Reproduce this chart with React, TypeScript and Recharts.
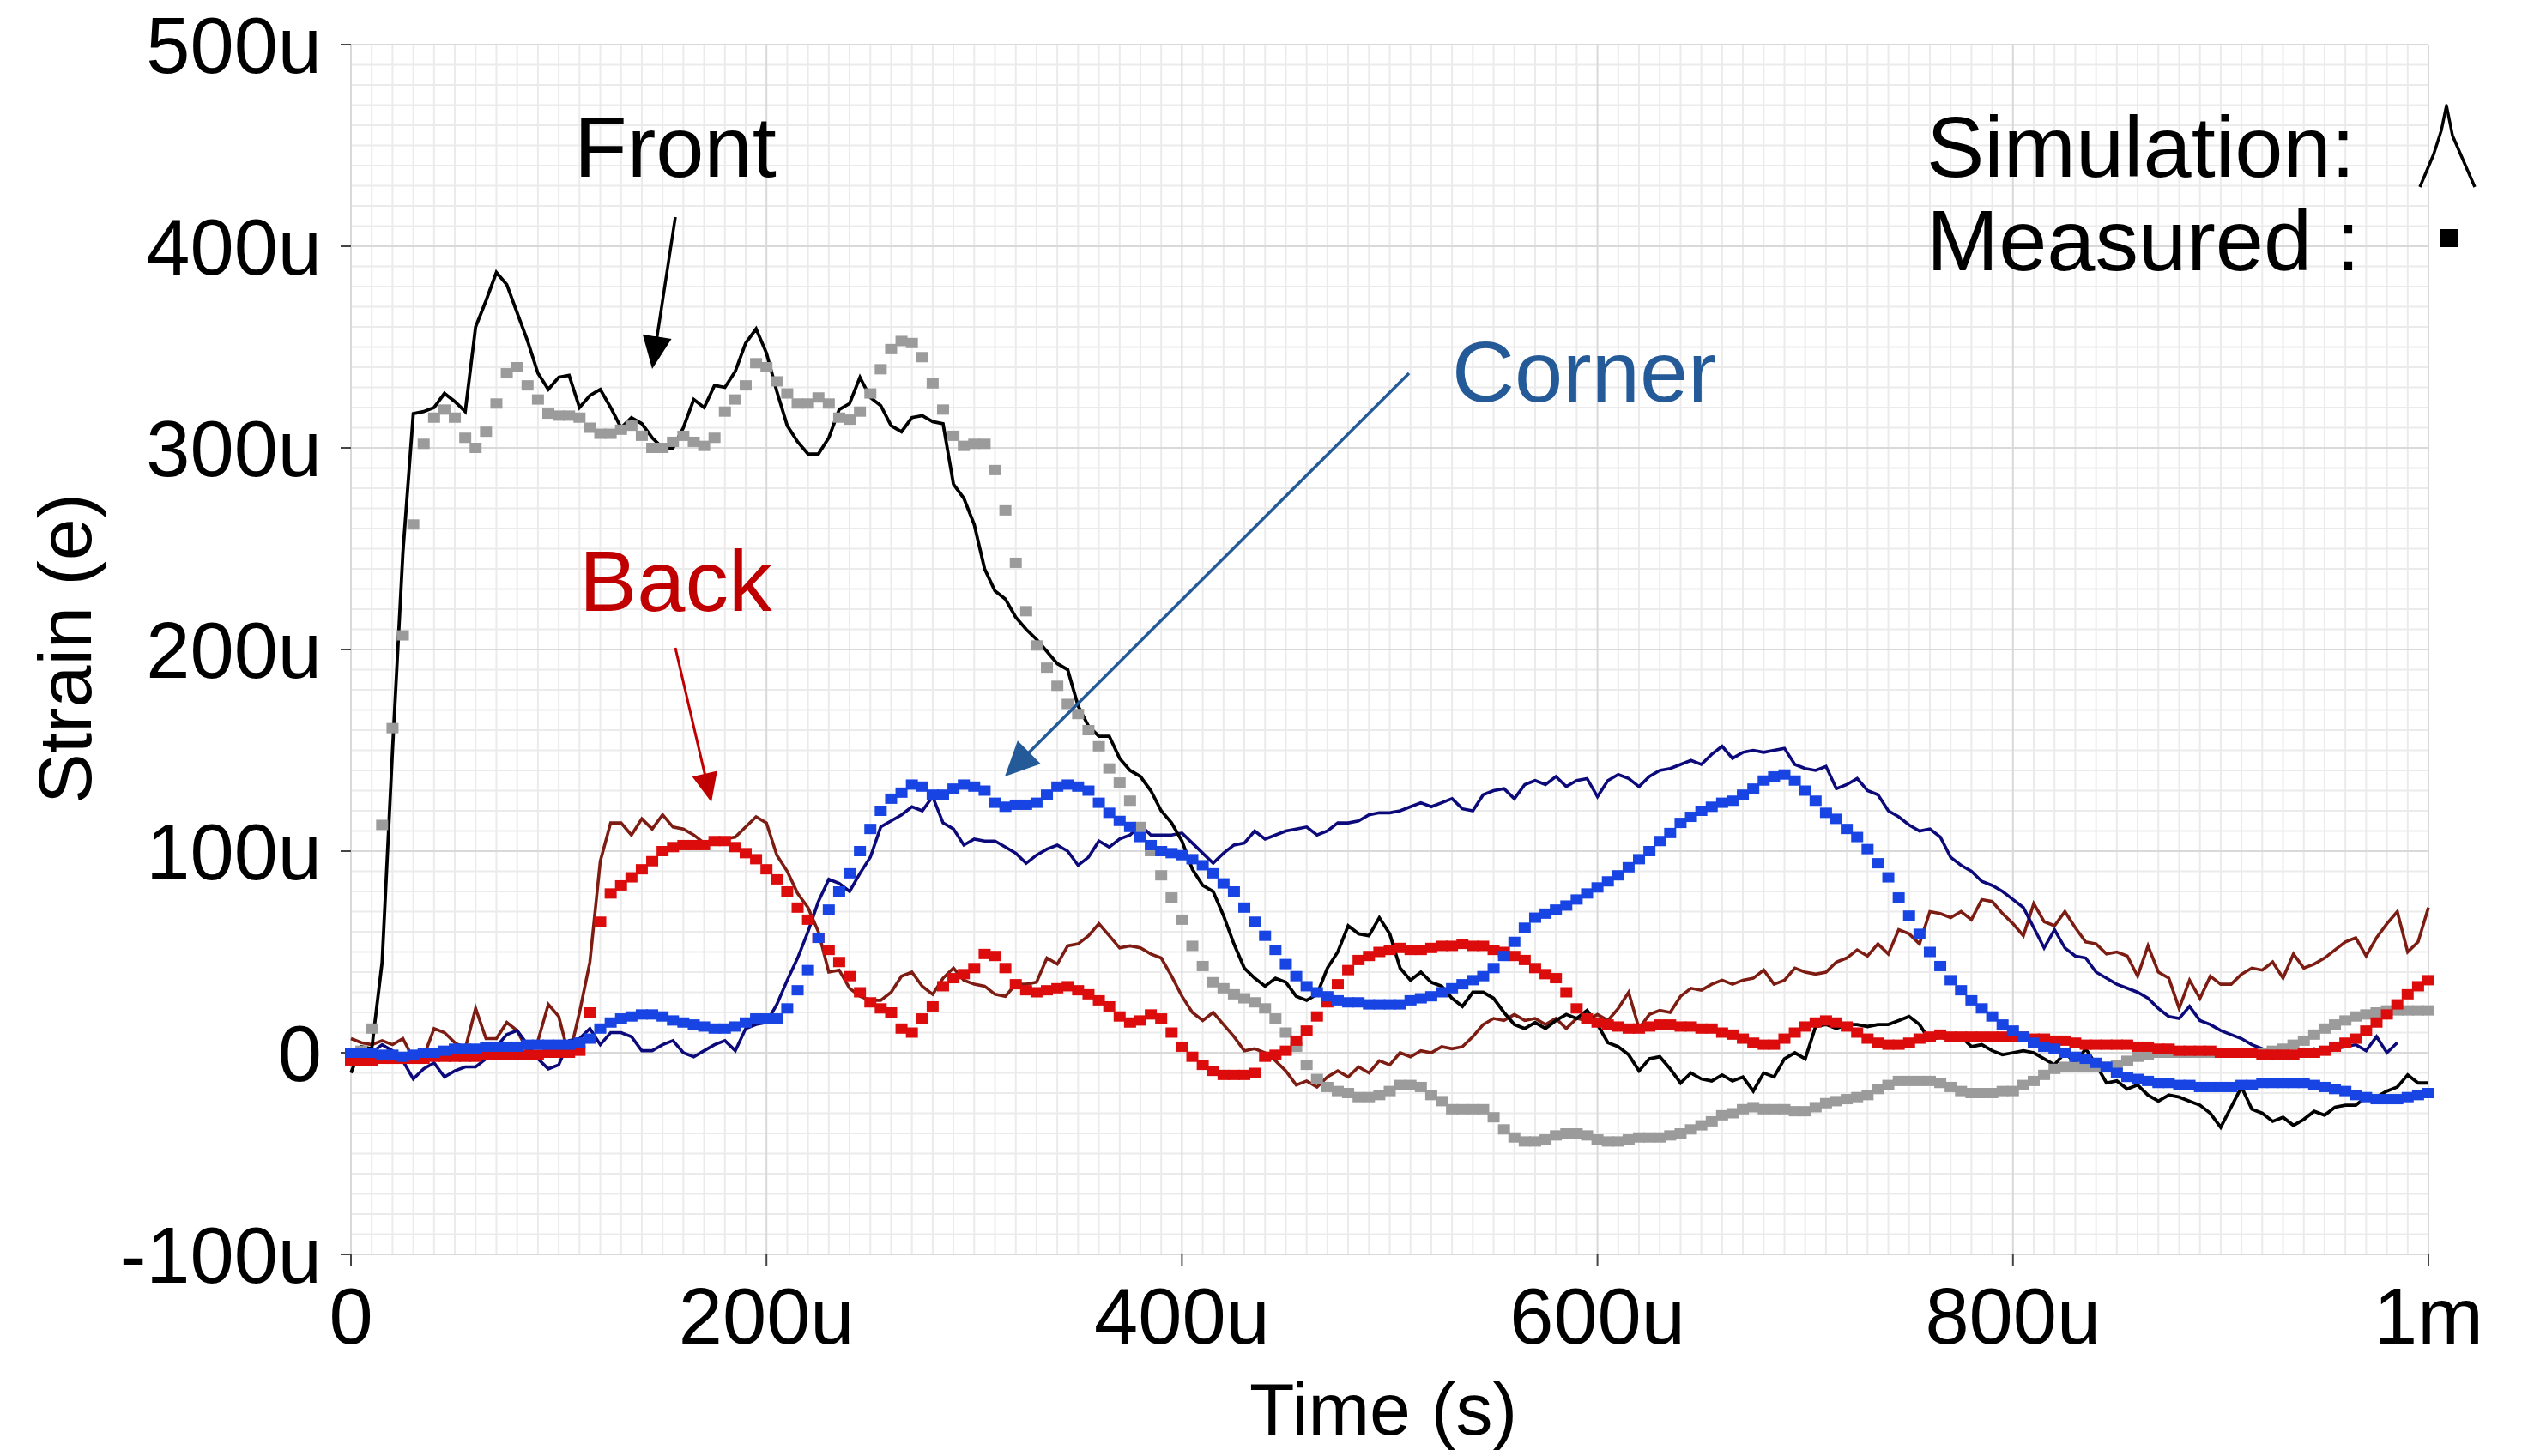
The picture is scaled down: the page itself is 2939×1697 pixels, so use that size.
import React from 'react';
import { ComposedChart, Line, XAxis, YAxis, ReferenceLine } from 'recharts';

// time axis in microseconds (5u step)
const TIME = [
  0, 5, 10, 15, 20, 25, 30, 35, 40, 45, 50, 55, 60, 65, 70, 75, 80, 85, 90, 95,
  100, 105, 110, 115, 120, 125, 130, 135, 140, 145, 150, 155, 160, 165, 170, 175, 180, 185, 190, 195,
  200, 205, 210, 215, 220, 225, 230, 235, 240, 245, 250, 255, 260, 265, 270, 275, 280, 285, 290, 295,
  300, 305, 310, 315, 320, 325, 330, 335, 340, 345, 350, 355, 360, 365, 370, 375, 380, 385, 390, 395,
  400, 405, 410, 415, 420, 425, 430, 435, 440, 445, 450, 455, 460, 465, 470, 475, 480, 485, 490, 495,
  500, 505, 510, 515, 520, 525, 530, 535, 540, 545, 550, 555, 560, 565, 570, 575, 580, 585, 590, 595,
  600, 605, 610, 615, 620, 625, 630, 635, 640, 645, 650, 655, 660, 665, 670, 675, 680, 685, 690, 695,
  700, 705, 710, 715, 720, 725, 730, 735, 740, 745, 750, 755, 760, 765, 770, 775, 780, 785, 790, 795,
  800, 805, 810, 815, 820, 825, 830, 835, 840, 845, 850, 855, 860, 865, 870, 875, 880, 885, 890, 895,
  900, 905, 910, 915, 920, 925, 930, 935, 940, 945, 950, 955, 960, 965, 970, 975, 980, 985, 990, 995,
  1000,
];

// strain values in micro-strain
const frontSim = [
  -10, 3, 2, 45, 150, 248, 317, 318, 320, 327, 323, 318, 360, 373, 387, 381, 367, 353, 337, 329,
  335, 336, 320, 326, 329, 320, 310, 315, 312, 305, 300, 300, 310, 324, 320, 331, 330, 338, 352, 359,
  347, 328, 311, 303, 297, 297, 305, 319, 322, 335, 325, 321, 311, 308, 315, 316, 313, 312, 282, 275,
  262, 240, 229, 225, 216, 210, 205, 199, 193, 190, 172, 162, 157, 157, 146, 140, 137, 130, 120, 114,
  105, 91, 83, 80, 68, 54, 42, 37, 33, 37, 35, 28, 26, 29, 42, 50, 63, 59, 58, 67,
  59, 42, 36, 40, 35, 33, 27, 23, 30, 30, 27, 20, 14, 12, 15, 12, 16, 19, 17, 21,
  14, 5, 3, -1, -9, -3, -2, -8, -15, -10, -13, -14, -11, -14, -12, -19, -10, -12, -3, 0,
  -3, 13, 14, 12, 14, 14, 13, 14, 14, 16, 18, 14, 6, 8, 6, 8, 3, 4, 1, -1,
  0, 1, 0, -3, -6, 0, -5, 2, -6, -15, -14, -18, -16, -21, -24, -21, -22, -24, -26, -30,
  -37, -27, -17, -28, -30, -34, -32, -36, -33, -29, -31, -27, -26, -26, -22, -22, -19, -17, -11, -15,
  -15,
];

const frontMeas = [
  0, 1, 12, 113, 161, 207, 262, 302, 315, 319, 315, 305, 300, 308, 322, 337, 340, 331, 324, 317,
  316, 316, 315, 310, 307, 307, 309, 311, 306, 300, 300, 303, 306, 303, 301, 305, 318, 324, 331, 342,
  340, 333, 327, 322, 322, 325, 322, 315, 314, 318, 327, 339, 349, 353, 352, 345, 332, 319, 306, 301,
  302, 302, 289, 269, 243, 219, 202, 191, 182, 173, 168, 160, 152, 141, 134, 125, 112, 100, 88, 77,
  66, 53, 43, 35, 32, 29, 27, 25, 22, 17, 10, 3, -6, -13, -17, -19, -20, -22, -22, -21,
  -19, -16, -16, -17, -21, -24, -28, -28, -28, -28, -32, -38, -42, -44, -44, -43, -41, -40, -40, -41,
  -43, -44, -44, -43, -42, -42, -42, -41, -40, -38, -36, -34, -31, -30, -28, -27, -28, -28, -28, -29,
  -29, -27, -25, -24, -23, -22, -21, -18, -16, -14, -14, -14, -14, -15, -17, -19, -20, -20, -20, -19,
  -19, -16, -14, -11, -8, -7, -7, -7, -7, -7, -6, -4, -2, -1, 0, 0, 0, 0, 0, 0,
  0, 0, 0, 0, 0, 1, 2, 4, 6, 9, 12, 14, 16, 18, 19, 20, 21, 21, 21, 21,
  21,
];

const backSim = [
  7, 5, 4, 6, 4, 7, -3, -2, 12, 10, 5, 2, 22, 7, 7, 15, 11, 1, 6, 24,
  18, -2, 20, 45, 95, 114, 114, 108, 116, 111, 118, 112, 111, 108, 104, 106, 106, 107, 112, 117,
  114, 98, 90, 79, 72, 60, 40, 41, 32, 28, 26, 26, 30, 38, 40, 33, 29, 37, 42, 36,
  34, 33, 29, 28, 34, 34, 35, 47, 44, 53, 54, 58, 64, 58, 52, 53, 52, 49, 47, 38,
  28, 20, 16, 20, 14, 8, 1, 2, 0, -4, -9, -16, -14, -17, -12, -9, -12, -7, -10, -4,
  -6, 0, -2, 1, 0, 3, 2, 3, 8, 14, 17, 16, 19, 16, 17, 14, 17, 12, 17, 16,
  19, 16, 22, 30, 12, 19, 21, 20, 28, 32, 31, 34, 36, 34, 36, 37, 41, 34, 36, 42,
  40, 39, 40, 45, 47, 51, 48, 54, 49, 61, 59, 54, 70, 69, 67, 70, 66, 76, 75, 69,
  64, 58, 74, 65, 63, 70, 62, 55, 54, 49, 50, 48, 38, 53, 40, 37, 22, 36, 27, 38,
  34, 34, 39, 42, 41, 45, 37, 49, 42, 44, 47, 51, 55, 57, 48, 57, 64, 70, 50, 55,
  72,
];

const backMeas = [
  -4, -4, -4, -3, -3, -3, -3, -3, -2, -2, -2, -2, -2, -1, -1, -1, -1, -1, -1, 0,
  0, 0, 1, 20, 65, 79, 83, 87, 91, 95, 100, 102, 103, 103, 103, 105, 105, 102, 99, 96,
  91, 86, 80, 72, 66, 57, 51, 45, 38, 30, 25, 22, 20, 12, 10, 17, 23, 33, 37, 39,
  42, 49, 48, 42, 34, 31, 30, 31, 32, 33, 31, 29, 26, 23, 18, 15, 16, 19, 17, 10,
  3, -2, -6, -9, -11, -11, -11, -10, -2, -1, 1, 6, 11, 18, 25, 34, 41, 46, 48, 50,
  51, 52, 51, 51, 52, 53, 53, 54, 53, 53, 51, 50, 48, 46, 42, 39, 37, 30, 22, 17,
  15, 14, 13, 12, 12, 13, 14, 14, 13, 13, 12, 12, 10, 9, 7, 5, 4, 4, 7, 10,
  13, 15, 16, 15, 13, 10, 7, 5, 4, 4, 5, 7, 8, 9, 8, 8, 8, 8, 8, 8,
  8, 8, 7, 7, 6, 6, 5, 4, 4, 4, 4, 4, 3, 3, 2, 2, 1, 1, 1, 1,
  0, 0, 0, 0, -1, -1, -1, -1, 0, 0, 1, 3, 5, 7, 11, 15, 19, 24, 29, 33,
  36,
];

const cornerSim = [
  -2, -3, 0, 4, 1, -4, -13, -8, -5, -12, -9, -7, -7, -3, 3, 9, 11, 4, -3, -8,
  -6, 6, 7, 12, 4, 10, 10, 8, 1, 1, 4, 6, 0, -2, 1, 4, 6, 1, 12, 14,
  15, 24, 36, 47, 60, 75, 86, 84, 80, 89, 97, 112, 115, 118, 122, 120, 127, 114, 111, 103,
  106, 105, 105, 102, 99, 94, 98, 101, 103, 100, 93, 97, 105, 102, 106, 108, 113, 108, 108, 108,
  109, 104, 99, 94, 99, 103, 104, 110, 106, 108, 110, 111, 112, 108, 110, 114, 114, 115, 118, 119,
  119, 120, 122, 124, 122, 124, 126, 121, 120, 128, 130, 131, 126, 133, 135, 133, 137, 132, 135, 136,
  127, 135, 138, 136, 132, 137, 140, 141, 143, 145, 143, 148, 152, 146, 149, 150, 149, 150, 151, 143,
  141, 140, 142, 131, 133, 136, 130, 128, 120, 117, 113, 110, 111, 107, 97, 93, 90, 85, 83, 80,
  76, 72, 62, 52, 61, 52, 48, 47, 40, 37, 34, 32, 30, 27, 22, 18, 17, 23, 16, 14,
  11, 9, 7, 4, 2, -3, -1, 0, 1, 2, 0, 2, 3, 4, 1, 8, 0, 5, null, null,
  null,
];

const cornerMeas = [
  0, 0, 0, -1, -1, -2, -1, 0, 0, 1, 2, 2, 2, 3, 3, 3, 3, 4, 4, 4,
  4, 4, 5, 7, 12, 15, 17, 18, 19, 19, 18, 16, 15, 14, 13, 12, 12, 13, 15, 17,
  17, 17, 22, 31, 41, 57, 71, 80, 89, 100, 111, 120, 126, 129, 133, 132, 128, 128, 131, 133,
  132, 130, 124, 122, 123, 123, 124, 128, 132, 133, 132, 130, 124, 119, 115, 112, 107, 103, 100, 99,
  98, 96, 93, 89, 84, 80, 72, 65, 58, 51, 44, 38, 33, 30, 28, 26, 25, 25, 24, 24,
  24, 24, 26, 27, 28, 30, 32, 34, 36, 38, 42, 48, 55, 62, 67, 69, 71, 73, 76, 79,
  82, 85, 88, 92, 96, 100, 105, 109, 114, 117, 120, 122, 124, 125, 128, 131, 135, 137, 138, 135,
  130, 125, 119, 116, 111, 107, 101, 94, 87, 77, 68, 59, 50, 43, 36, 31, 26, 22, 18, 14,
  11, 8, 5, 3, 2, 0, -2, -3, -5, -7, -10, -12, -13, -14, -15, -15, -16, -16, -17, -17,
  -17, -17, -16, -16, -15, -15, -15, -15, -15, -16, -17, -18, -19, -21, -22, -23, -23, -23, -22, -21,
  -20,
];

const X_TICKS = [0, 200, 400, 600, 800, 1000];
const Y_TICKS = [-100, 0, 100, 200, 300, 400, 500];
const X_MINOR = [10, 20, 30, 40, 50, 60, 70, 80, 90, 100, 110, 120, 130, 140, 150, 160, 170, 180, 190,
  210, 220, 230, 240, 250, 260, 270, 280, 290, 300, 310, 320, 330, 340, 350, 360, 370, 380, 390,
  410, 420, 430, 440, 450, 460, 470, 480, 490, 500, 510, 520, 530, 540, 550, 560, 570, 580, 590,
  610, 620, 630, 640, 650, 660, 670, 680, 690, 700, 710, 720, 730, 740, 750, 760, 770, 780, 790,
  810, 820, 830, 840, 850, 860, 870, 880, 890, 900, 910, 920, 930, 940, 950, 960, 970, 980, 990];
const Y_MINOR = [-90, -80, -70, -60, -50, -40, -30, -20, -10, 10, 20, 30, 40, 50, 60, 70, 80, 90,
  110, 120, 130, 140, 150, 160, 170, 180, 190, 210, 220, 230, 240, 250, 260, 270, 280, 290,
  310, 320, 330, 340, 350, 360, 370, 380, 390, 410, 420, 430, 440, 450, 460, 470, 480, 490];

const FONT = '"Liberation Sans", Arial, Helvetica, sans-serif';
const W = 2939;
const H = 1697;

const data = TIME.map((t, i) => ({
  t,
  fs: frontSim[i],
  fm: frontMeas[i],
  bs: backSim[i],
  bm: backMeas[i],
  cs: cornerSim[i],
  cm: cornerMeas[i],
}));

const fmtY = (v: number) => (v === 0 ? '0' : `${v}u`);
const fmtX = (v: number) => (v === 0 ? '0' : v === 1000 ? '1m' : `${v}u`);

const squareDot = (color: string) => (props: any) => {
  const { cx, cy, index, value } = props;
  if (cx == null || cy == null || value == null) return <g key={`e${index}`} />;
  return <rect key={`s${index}`} x={cx - 7} y={cy - 6} width={14} height={12} fill={color} />;
};

function Arrow({ x1, y1, x2, y2, color, len, half, width }: any) {
  const dx = x2 - x1;
  const dy = y2 - y1;
  const d = Math.sqrt(dx * dx + dy * dy);
  const ux = dx / d;
  const uy = dy / d;
  const bx = x2 - ux * len;
  const by = y2 - uy * len;
  const pts = `${x2},${y2} ${bx - uy * half},${by + ux * half} ${bx + uy * half},${by - ux * half}`;
  return (
    <g>
      <line x1={x1} y1={y1} x2={bx + ux * 2} y2={by + uy * 2} stroke={color} strokeWidth={width} />
      <polygon points={pts} fill={color} />
    </g>
  );
}

export default function App() {
  return (
    <div style={{ position: 'relative', width: W, height: H, background: '#fff', fontFamily: FONT }}>
      <style>{'body{margin:0;background:#fff}'}</style>
      <ComposedChart width={W} height={H} data={data} margin={{ top: 52, right: 109, bottom: 0, left: 0 }}>
        <XAxis
          type="number"
          dataKey="t"
          domain={[0, 1000]}
          ticks={X_TICKS}
          tickFormatter={fmtX}
          height={235}
          axisLine={false}
          tickLine={{ stroke: '#444', strokeWidth: 2 }}
          tickSize={14}
          tickMargin={25}
          tick={{ fill: '#000', fontSize: 92, fontFamily: FONT }}
          interval={0}
        />
        <YAxis
          type="number"
          domain={[-100, 500]}
          ticks={Y_TICKS}
          tickFormatter={fmtY}
          width={409}
          axisLine={false}
          tickLine={{ stroke: '#444', strokeWidth: 2 }}
          tickSize={12}
          tickMargin={22}
          tick={{ fill: '#000', fontSize: 92, fontFamily: FONT }}
          interval={0}
        />
        {X_MINOR.map((v) => (
          <ReferenceLine key={`xm${v}`} x={v} stroke="#ebebeb" strokeWidth={2} />
        ))}
        {Y_MINOR.map((v) => (
          <ReferenceLine key={`ym${v}`} y={v} stroke="#ebebeb" strokeWidth={2} />
        ))}
        {X_TICKS.map((v) => (
          <ReferenceLine key={`xM${v}`} x={v} stroke="#d9d9d9" strokeWidth={2} />
        ))}
        {Y_TICKS.map((v) => (
          <ReferenceLine key={`yM${v}`} y={v} stroke="#d9d9d9" strokeWidth={2} />
        ))}
        <Line dataKey="fm" stroke="none" dot={squareDot('#9b9b9b')} activeDot={false} isAnimationActive={false} />
        <Line dataKey="bm" stroke="none" dot={squareDot('#dd0c0c')} activeDot={false} isAnimationActive={false} />
        <Line dataKey="cm" stroke="none" dot={squareDot('#1744e2')} activeDot={false} isAnimationActive={false} />
        <Line dataKey="bs" stroke="#7d1c12" strokeWidth={3.6} dot={false} activeDot={false} isAnimationActive={false} />
        <Line dataKey="cs" stroke="#0c0a7a" strokeWidth={3.6} dot={false} activeDot={false} isAnimationActive={false} />
        <Line dataKey="fs" stroke="#000" strokeWidth={3.8} dot={false} activeDot={false} isAnimationActive={false} />
      </ComposedChart>
      <svg
        width={W}
        height={H}
        style={{ position: 'absolute', left: 0, top: 0, pointerEvents: 'none' }}
        fontFamily={FONT}
      >
        <text x={1612} y={1672} fontSize={86} textAnchor="middle" fill="#000">Time (s)</text>
        <text transform="translate(106,756) rotate(-90)" fontSize={88} textAnchor="middle" fill="#000">Strain (e)</text>

        <text x={669} y={206} fontSize={101} fill="#000">Front</text>
        <Arrow x1={787} y1={253} x2={760} y2={430} color="#000" len={38} half={17} width={3.5} />

        <text x={675} y={712} fontSize={101} fill="#c00000">Back</text>
        <Arrow x1={787} y1={755} x2={829} y2={935} color="#c00000" len={34} half={15} width={3} />

        <text x={1692} y={468} fontSize={101} fill="#235a97">Corner</text>
        <Arrow x1={1642} y1={435} x2={1171} y2={905} color="#235a97" len={40} half={19} width={3.5} />

        <text x={2245} y={206} fontSize={101} fill="#000">Simulation:</text>
        <text x={2245} y={315} fontSize={101} fill="#000">Measured :</text>
        <polyline
          points="2820,218 2836,180 2845,152 2851,123 2858,158 2884,218"
          fill="none"
          stroke="#000"
          strokeWidth={3.5}
          strokeLinejoin="round"
        />
        <rect x={2844} y={267} width={21} height={21} fill="#000" />
      </svg>
    </div>
  );
}
